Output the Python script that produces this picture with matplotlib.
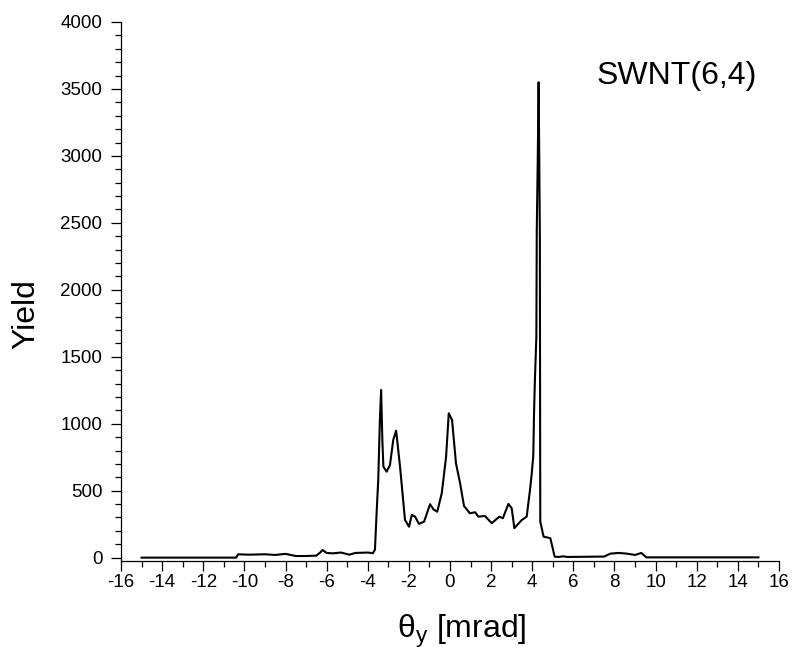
import matplotlib
matplotlib.use("Agg")
import matplotlib.pyplot as plt
from matplotlib.ticker import MultipleLocator

plt.rcParams["font.family"] = ["Liberation Sans", "DejaVu Sans"]
plt.rcParams["mathtext.fontset"] = "custom"
plt.rcParams["mathtext.rm"] = "Liberation Sans"
plt.rcParams["mathtext.it"] = "Liberation Sans"
plt.rcParams["axes.unicode_minus"] = False

# Angular scan: yield versus theta_y
theta_y = [
    -15.0, -10.4, -10.3, -9.8, -9.0, -8.5, -8.0, -7.5, -7.0, -6.5, -6.3, -6.2,
    -6.0, -5.7, -5.3, -4.9, -4.6, -4.0, -3.75, -3.65, -3.57, -3.49, -3.41,
    -3.35, -3.29, -3.24, -3.08, -2.92, -2.76, -2.62, -2.43, -2.19, -1.99,
    -1.86, -1.70, -1.51, -1.26, -0.97, -0.81, -0.62, -0.40, -0.19, -0.06,
    0.10, 0.29, 0.49, 0.68, 0.97, 1.22, 1.38, 1.70, 2.03, 2.40, 2.57, 2.84,
    3.00, 3.13, 3.49, 3.73, 3.89, 3.97, 4.05, 4.09, 4.13, 4.20, 4.22, 4.27,
    4.31, 4.34, 4.37, 4.39, 4.55, 4.88, 5.09, 5.3, 5.5, 5.7, 7.5, 7.8, 8.2,
    8.6, 9.0, 9.3, 9.55, 15.0,
]
yield_counts = [
    0, 0, 25, 22, 25, 20, 28, 12, 12, 15, 40, 57,
    35, 32, 38, 22, 35, 38, 33, 60, 331, 580, 1028,
    1252, 878, 680, 642, 692, 879, 948, 680, 282, 231,
    319, 306, 252, 269, 399, 361, 343, 481, 754, 1078,
    1028, 705, 556, 386, 331, 339, 306, 311, 257, 306, 294, 401,
    369, 220, 281, 306, 505, 620, 760, 1100, 1330, 1650, 2450, 3000,
    3550, 3000, 2400, 270, 157, 145, 7, 5, 10, 5, 8, 30, 35,
    30, 20, 35, 2, 2,
]

fig = plt.figure(figsize=(7.94, 6.62), dpi=100)
ax = fig.add_axes([0.1524, 0.1526, 0.8287, 0.8142])

ax.plot(theta_y, yield_counts, color="black", lw=1.5)

ax.set_xlim(-16, 16)
ax.set_ylim(-25, 4000)
ax.xaxis.set_major_locator(MultipleLocator(2))
ax.xaxis.set_minor_locator(MultipleLocator(1))
ax.yaxis.set_major_locator(MultipleLocator(500))
ax.yaxis.set_minor_locator(MultipleLocator(100))

for s in ("top", "right"):
    ax.spines[s].set_visible(False)
for s in ("left", "bottom"):
    ax.spines[s].set_linewidth(0.9)

ax.tick_params(which="major", direction="out", length=7.5, width=0.9,
               labelsize=13.5, color="black")
ax.tick_params(which="minor", direction="out", length=4.2, width=0.9)
ax.tick_params(axis="y", which="major", pad=6)
ax.tick_params(axis="x", which="major", pad=2)

ax.set_ylabel("Yield", fontsize=23, ha="center", va="center")
ax.yaxis.set_label_coords(-0.144, 0.458)
ax.set_xlabel(r"$\mathregular{\theta_y}$ [mrad]", fontsize=23,
              ha="center", va="center")
ax.xaxis.set_label_coords(0.518, -0.13)

ax.text(0.723, 0.90, "SWNT(6,4)", transform=ax.transAxes, fontsize=23,
        ha="left", va="center")

fig.savefig("out.png", dpi=100)
